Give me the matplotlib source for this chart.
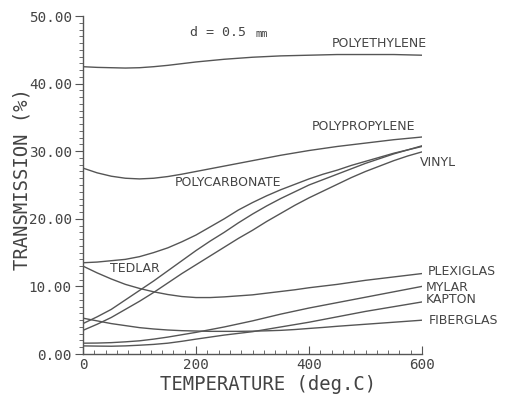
import matplotlib
matplotlib.use("Agg")
import matplotlib.pyplot as plt
from matplotlib.ticker import MultipleLocator, FormatStrFormatter

temperature = [0, 25, 50, 75, 100, 125, 150, 175, 200, 225, 250, 275, 300,
               325, 350, 375, 400, 425, 450, 475, 500, 525, 550, 575, 600]

polyethylene = [42.5, 42.4, 42.35, 42.3, 42.35, 42.5, 42.7, 42.95, 43.2, 43.4, 43.6, 43.75, 43.9,
                44.0, 44.1, 44.15, 44.2, 44.25, 44.3, 44.3, 44.3, 44.3, 44.3, 44.25, 44.2]
polypropylene = [27.5, 26.8, 26.3, 26.0, 25.9, 26.0, 26.25, 26.6, 27.0, 27.4, 27.8, 28.2, 28.6,
                 29.0, 29.4, 29.75, 30.1, 30.4, 30.7, 30.95, 31.2, 31.45, 31.7, 31.9, 32.1]
polycarbonate = [13.5, 13.6, 13.8, 14.0, 14.4, 15.0, 15.7, 16.6, 17.6, 18.8, 20.0, 21.3, 22.4,
                 23.4, 24.3, 25.1, 25.9, 26.6, 27.2, 27.9, 28.5, 29.1, 29.7, 30.2, 30.7]
tedlar = [4.5, 5.5, 6.6, 8.0, 9.4, 10.8, 12.3, 13.8, 15.3, 16.7, 18.0, 19.4, 20.7,
          21.9, 23.0, 24.0, 25.0, 25.8, 26.6, 27.4, 28.2, 28.9, 29.6, 30.2, 30.8]
vinyl = [3.5, 4.4, 5.4, 6.6, 7.8, 9.1, 10.5, 11.9, 13.2, 14.5, 15.8, 17.1, 18.3,
         19.6, 20.8, 22.0, 23.1, 24.1, 25.1, 26.1, 27.0, 27.8, 28.6, 29.3, 29.9]
plexiglas = [13.0, 12.0, 11.1, 10.3, 9.7, 9.2, 8.8, 8.5, 8.35, 8.35, 8.45, 8.6, 8.75,
             9.0, 9.25, 9.5, 9.8, 10.05, 10.3, 10.6, 10.9, 11.15, 11.4, 11.65, 11.9]
fiberglas = [5.3, 4.9, 4.5, 4.2, 3.9, 3.7, 3.55, 3.45, 3.4, 3.35, 3.35, 3.35, 3.38,
             3.43, 3.5, 3.62, 3.78, 3.93, 4.1, 4.25, 4.4, 4.55, 4.7, 4.85, 5.0]
mylar = [1.6, 1.62, 1.68, 1.8, 1.95, 2.2, 2.5, 2.85, 3.2, 3.6, 4.0, 4.45, 4.9,
         5.4, 5.9, 6.35, 6.8, 7.2, 7.6, 8.0, 8.4, 8.8, 9.2, 9.6, 10.0]
kapton = [1.2, 1.17, 1.15, 1.2, 1.3, 1.42, 1.6, 1.88, 2.2, 2.5, 2.8, 3.05, 3.3,
          3.65, 4.0, 4.35, 4.7, 5.1, 5.5, 5.9, 6.3, 6.65, 7.0, 7.35, 7.7]

series = [polyethylene, polypropylene, polycarbonate, tedlar, vinyl,
          plexiglas, fiberglas, mylar, kapton]

W, H = 511, 394
fig = plt.figure(figsize=(W / 100, H / 100), dpi=100)
ax = fig.add_axes([83 / W, 1 - 354 / H, (422 - 83) / W, (354 - 16) / H])

lc = "#555555"
tc = "#444444"
for s in series:
    ax.plot(temperature, s, color=lc, linewidth=1.0)

ax.set_xlim(0, 600)
ax.set_ylim(0, 50)
ax.spines["top"].set_visible(False)
ax.spines["right"].set_visible(False)
for sp in ("left", "bottom"):
    ax.spines[sp].set_color(lc)
    ax.spines[sp].set_linewidth(1.0)

ax.xaxis.set_major_locator(MultipleLocator(200))
ax.xaxis.set_minor_locator(MultipleLocator(20))
ax.yaxis.set_major_locator(MultipleLocator(10))
ax.yaxis.set_minor_locator(MultipleLocator(1))
ax.yaxis.set_major_formatter(FormatStrFormatter("%.2f"))

mono = "DejaVu Sans Mono"
ax.tick_params(axis="x", which="major", direction="in", length=6, color=lc,
               labelsize=10.3, labelcolor=tc, pad=3)
ax.tick_params(axis="x", which="minor", direction="in", length=3, color=lc)
ax.tick_params(axis="y", which="major", direction="out", length=6, color=lc,
               labelsize=10.3, labelcolor=tc, pad=2)
ax.tick_params(axis="y", which="minor", direction="out", length=3, color=lc)
for lab in ax.get_xticklabels() + ax.get_yticklabels():
    lab.set_fontfamily(mono)

def ftxt(x, y, s, **kw):
    fig.text(x / W, 1 - y / H, s, **kw)

ftxt(268, 385, "TEMPERATURE (deg.C)", ha="center", va="center",
     fontsize=13.6, family=mono, color=tc)
ftxt(22, 179, "TRANSMISSION (%)", ha="center", va="center", rotation=90,
     fontsize=13.6, family=mono, color=tc)

ftxt(190, 33, "d = 0.5", ha="left", va="center", fontsize=9.5, family=mono, color=tc)
ftxt(256, 34, "mm", ha="left", va="center", fontsize=7.5, family=mono, color=tc)

lab_kw = dict(fontsize=9, color=tc, va="center", ha="left")
ax.text(441, 45.9, "POLYETHYLENE", **lab_kw)
ax.text(405, 33.6, "POLYPROPYLENE", **lab_kw)
ax.text(596, 28.4, "VINYL", clip_on=False, **lab_kw)
ax.text(163, 25.3, "POLYCARBONATE", **lab_kw)
ax.text(48, 12.7, "TEDLAR", **lab_kw)
ax.text(610, 12.2, "PLEXIGLAS", clip_on=False, **lab_kw)
ax.text(607, 9.9, "MYLAR", clip_on=False, **lab_kw)
ax.text(607, 8.0, "KAPTON", clip_on=False, **lab_kw)
ax.text(612, 4.9, "FIBERGLAS", clip_on=False, **lab_kw)

fig.savefig("out.png", dpi=100)
